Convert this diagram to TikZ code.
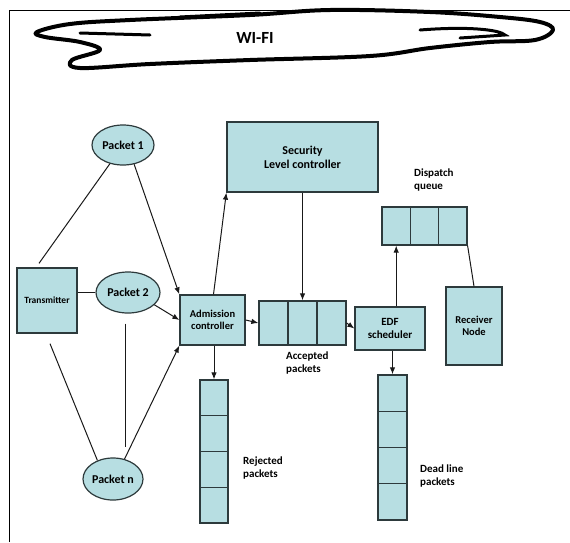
\documentclass[tikz,border=0pt]{standalone}
\usepackage{fontspec}
\setmainfont{Carlito}
\usetikzlibrary{shapes.geometric,arrows.meta}
\definecolor{boxfill}{RGB}{183,222,226}
\definecolor{boxline}{RGB}{45,58,60}
\begin{document}
\begin{tikzpicture}[x=1pt,y=-1pt,
  blk/.style={draw=boxline,fill=boxfill,line width=1.3pt,inner sep=1pt,align=center,font=\bfseries\fontsize{10.5}{12}\selectfont},
  cell/.style={draw=boxline,fill=boxfill,line width=1.3pt,inner sep=0pt},
  pkt/.style={ellipse,draw=boxline,fill=boxfill,line width=1.2pt,inner sep=0pt,font=\bfseries\fontsize{12}{13}\selectfont},
  lbl/.style={font=\bfseries\fontsize{11}{13}\selectfont,align=left,inner sep=0pt},
  con/.style={draw=black!90,line width=1pt},
  arr/.style={con,-{Latex[length=7pt,width=5.5pt]}}]
\useasboundingbox (0,0) rectangle (570,542);
% frame
\draw[line width=1pt] (9,542) -- (9,10) -- (570,10);
% cloud scribble
\draw[line width=4pt,line join=round] plot[smooth cycle,tension=0.6] coordinates
 {(37,32) (70,24) (130,20) (250,15) (330,10) (430,12) (500,17) (540,22) (553,30) (535,40) (490,42) (430,48) (370,56) (250,60) (150,64) (80,68) (72,60) (100,50) (80,42) (45,37)};
\draw[line width=3pt,line cap=round] (80,33) -- (150,35);
\draw[line width=3pt,line cap=round] (420,30) .. controls (470,26) and (500,30) .. (505,35) -- (460,38);
\draw[line width=3pt,line cap=round] (180,17) -- (260,13);
\node[font=\bfseries\fontsize{17}{18}\selectfont] (wifi) at (255,38) {WI-FI};
% nodes
\node[blk,minimum width=60pt,minimum height=65pt,font=\bfseries\fontsize{9.5}{11}\selectfont] (tx) at (47,300.5) {Transmitter};
\node[pkt,minimum width=62pt,minimum height=40pt] (p1) at (123,145) {Packet 1};
\node[pkt,minimum width=64pt,minimum height=41pt] (p2) at (128,292.5) {Packet 2};
\node[pkt,minimum width=60pt,minimum height=42pt] (pn) at (113,479) {Packet n};
\node[blk,minimum width=65pt,minimum height=50pt] (adm) at (212.5,320) {Admission\\controller};
\node[blk,minimum width=151pt,minimum height=70pt,font=\bfseries\fontsize{12}{14}\selectfont] (sec) at (302.5,157) {Security\\Level controller};
\node[blk,minimum width=56pt,minimum height=78pt] (rx) at (474,326) {Receiver\\Node};
\node[blk,minimum width=70pt,minimum height=43pt,font=\bfseries\fontsize{11}{13}\selectfont] (edf) at (390,328.5) {EDF\\scheduler};
% rejected queue
\foreach \i/\y in {1/397.9,2/433.6,3/469.4,4/505.1}
  \node[cell,minimum width=28pt,minimum height=35.75pt] (rej\i) at (214,\y) {};
% accepted queue
\foreach \i/\x in {1/273.5,2/302.5,3/331.5}
  \node[cell,minimum width=29pt,minimum height=44pt] (acc\i) at (\x,323) {};
% dispatch queue
\foreach \i/\x in {1/396.2,2/424.5,3/452.8}
  \node[cell,minimum width=28.3pt,minimum height=38pt] (dq\i) at (\x,226) {};
% lost queue
\foreach \i/\y in {1/393.1,2/429.4,3/465.6,4/501.9}
  \node[cell,minimum width=29pt,minimum height=36.25pt] (lost\i) at (392.5,\y) {};
% labels
\node[lbl,anchor=west] (dql) at (414,180) {Dispatch\\queue};
\node[lbl,anchor=west] (accl) at (286,363) {Accepted\\packets};
\node[lbl,anchor=west] (rejl) at (243,468) {Rejected\\packets};
\node[lbl,anchor=west] (lostl) at (420,476) {Dead line\\packets};
% connectors
\draw[con] ([xshift=-8pt,yshift=4pt]tx.north) -- (p1.235);
\draw[arr] (p1.300) -- (adm.north west);
\draw[con] (tx.east |- p2.west) -- (p2.west);
\draw[arr] (p2.335) -- (adm.west);
\draw[con] ([xshift=3pt,yshift=-10pt]tx.south) -- (pn.130);
\draw[con] ([xshift=-3pt,yshift=-10pt]p2.south) -- ([xshift=-3pt,yshift=10pt]p2.south |- pn.north);
\draw[arr] (pn.60) -- (adm.south west);
\draw[arr] ([xshift=1pt]adm.north) -- (sec.south west);
\draw[arr] (adm.east) -- (acc1.west);
\draw[arr] (rej1.north |- adm.south) -- (rej1.north);
\draw[arr] (sec.south) -- (acc2.north);
\draw[arr] (acc3.east) -- (edf.west);
\draw[arr] (dq1.south |- edf.north) -- (dq1.south);
\draw[arr] (lost1.north |- edf.south) -- (lost1.north);
\draw[con] (dq3.south east) -- (rx.north);
\end{tikzpicture}
\end{document}
